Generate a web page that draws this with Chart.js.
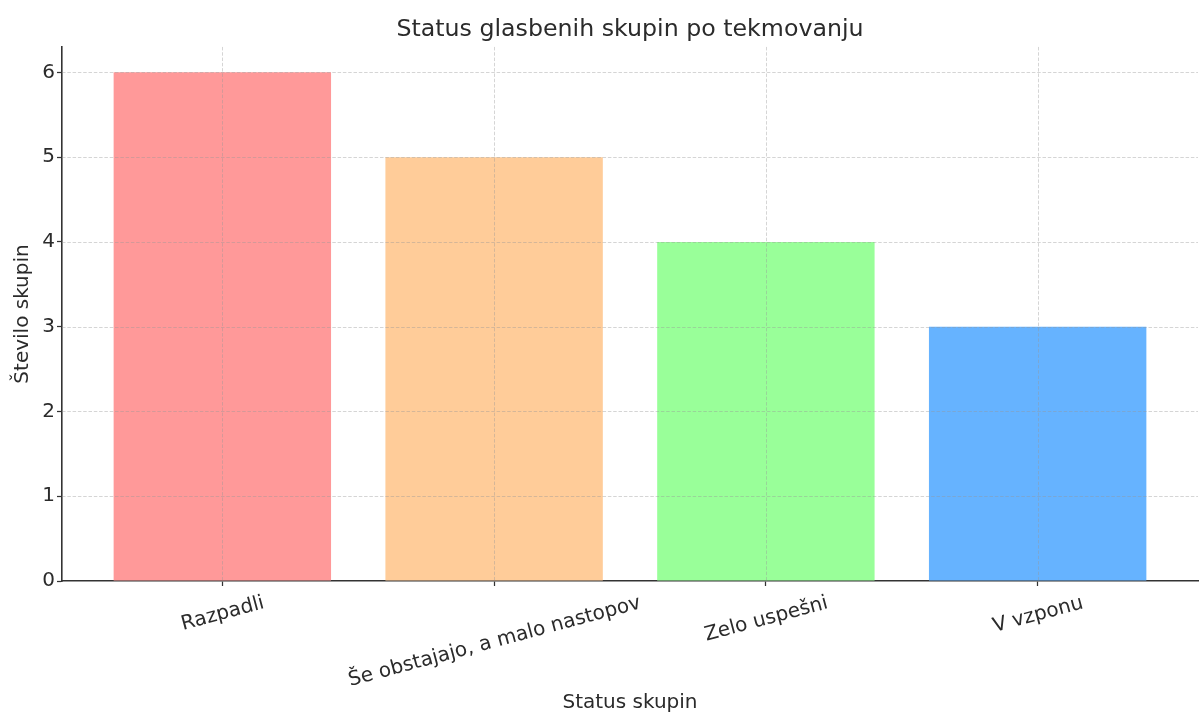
<!DOCTYPE html>
<html><head><meta charset="utf-8">
<script src="https://cdn.jsdelivr.net/npm/chart.js@4.4.0/dist/chart.umd.min.js"></script>
<style>html,body{margin:0;padding:0;background:#fff}canvas{display:block}</style>
</head><body>
<canvas id="c" width="1200" height="715"></canvas>
<script>
const categories = ['Razpadli', 'Še obstajajo, a malo nastopov', 'Zelo uspešni', 'V vzponu'];
const counts = [6, 5, 4, 3];
const barColors = ['#ff9999', '#ffcc99', '#99ff99', '#66b3ff'];
const yTicks = [0, 1, 2, 3, 4, 5, 6];
const chartTitle = 'Status glasbenih skupin po tekmovanju';
const xTitle = 'Status skupin';
const yTitle = 'Število skupin';

const FONT = "'DejaVu Sans', sans-serif";
const TEXT = '#2b2b2b';

const gridOnTop = {
  id: 'gridOnTop',
  afterDatasetsDraw(chart) {
    const {ctx, chartArea: a, scales: {x, y}} = chart;
    ctx.save();
    ctx.strokeStyle = 'rgba(150,150,150,0.5)';
    ctx.lineWidth = 0.8;
    ctx.setLineDash([3.5, 1.8]);
    y.ticks.forEach(t => {
      if (t.value === 0) return;
      const py = Math.round(y.getPixelForValue(t.value)) + 0.5;
      ctx.beginPath(); ctx.moveTo(a.left, py); ctx.lineTo(a.right, py); ctx.stroke();
    });
    x.ticks.forEach(t => {
      const px = Math.round(x.getPixelForValue(t.value)) + 0.5;
      ctx.beginPath(); ctx.moveTo(px, a.top); ctx.lineTo(px, a.bottom); ctx.stroke();
    });
    ctx.restore();
  }
};

const rotatedLabels = {
  id: 'rotatedLabels',
  afterDraw(chart) {
    const {ctx, chartArea: a, scales: {x}} = chart;
    const f = 20, ang = 15 * Math.PI / 180;
    ctx.save();
    ctx.font = f + 'px ' + FONT;
    ctx.fillStyle = TEXT;
    ctx.textAlign = 'center';
    ctx.textBaseline = 'alphabetic';
    x.ticks.forEach(t => {
      const label = categories[t.value];
      const L = ctx.measureText(label).width;
      const h = 1.164 * f;
      const bh = L * Math.sin(ang) + h * Math.cos(ang);
      const cx = x.getPixelForValue(t.value);
      const cy = a.bottom + 9 + bh / 2;
      ctx.save();
      ctx.translate(cx, cy);
      ctx.rotate(-ang);
      ctx.fillText(label, 0, 0.346 * f);
      ctx.restore();
    });
    ctx.restore();
  }
};

new Chart(document.getElementById('c'), {
  type: 'bar',
  data: {
    datasets: [{
      data: categories.map((c, i) => ({x: i, y: counts[i]})),
      backgroundColor: barColors,
      borderWidth: 0,
      barPercentage: 0.8,
      categoryPercentage: 1
    }]
  },
  options: {
    responsive: false,
    animation: false,
    devicePixelRatio: 1,
    layout: {padding: {left: 0, right: 2, top: 0, bottom: 0}},
    plugins: {
      legend: {display: false},
      tooltip: {enabled: false},
      title: {
        display: true, text: chartTitle, color: TEXT, fullSize: false,
        font: {family: FONT, size: 23.7, weight: 'normal'},
        padding: {top: 16, bottom: 2.5}
      }
    },
    scales: {
      x: {
        type: 'linear', min: -0.59, max: 3.59, offset: false,
        afterBuildTicks: s => { s.ticks = categories.map((c, i) => ({value: i})); },
        afterFit: s => { s.height = 134; },
        ticks: {display: false},
        grid: {display: true, drawOnChartArea: false, drawTicks: true, tickLength: 5, tickColor: '#333', tickWidth: 1.25, offset: false},
        border: {display: true, color: '#333', width: 1.6},
        title: {display: true, text: xTitle, color: TEXT, font: {family: FONT, size: 20, weight: 'normal'}, padding: {top: 0, bottom: 0}}
      },
      y: {
        min: 0, max: 6.3,
        afterBuildTicks: s => { s.ticks = yTicks.map(v => ({value: v})); },
        afterFit: s => { s.width = 62; },
        ticks: {color: TEXT, font: {family: FONT, size: 20, weight: 'normal'}, padding: 2},
        grid: {drawOnChartArea: false, drawTicks: true, tickLength: 5, tickColor: '#333', tickWidth: 1.25},
        border: {display: true, color: '#333', width: 1.6},
        title: {display: true, text: yTitle, color: TEXT, font: {family: FONT, size: 20, weight: 'normal'}, padding: {top: 11, bottom: 0}}
      }
    }
  },
  plugins: [gridOnTop, rotatedLabels]
});
</script>
</body></html>
